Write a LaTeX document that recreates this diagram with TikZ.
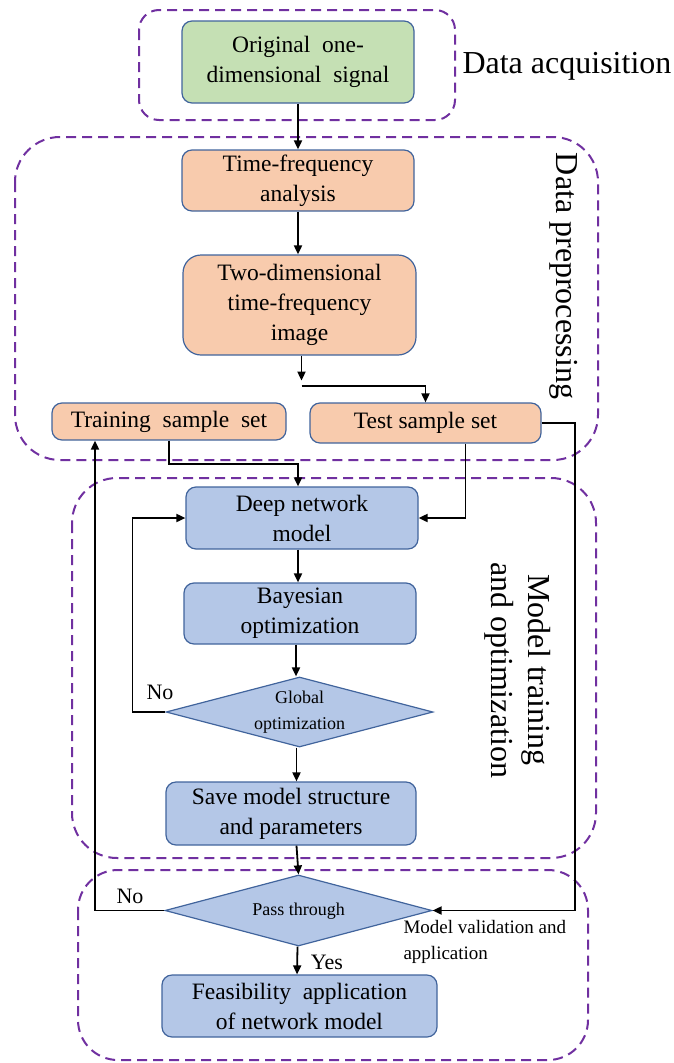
\documentclass[tikz,border=0pt]{standalone}
\usepackage{fontspec}
\setmainfont{Liberation Serif}
\usetikzlibrary{shapes.geometric,arrows.meta,calc}
\definecolor{grn}{HTML}{C5E0B4}
\definecolor{pch}{HTML}{F8CBAD}
\definecolor{blu}{HTML}{B4C7E7}
\definecolor{bord}{HTML}{41649C}
\definecolor{purp}{HTML}{7030A0}
\tikzset{
  box/.style={draw=bord, line width=1.2pt, rounded corners=10pt, align=center, inner sep=0pt,
    font=\fontsize{23.5}{30}\selectfont},
  dia/.style={diamond, draw=bord, line width=1.2pt, fill=blu, inner sep=0pt},
  diatext/.style={align=center, font=\fontsize{18}{26}\selectfont},
  group/.style={draw=purp, line width=2pt, dash pattern=on 10pt off 6pt},
  conn/.style={line width=1.8pt, -{Triangle[length=9pt,width=8pt]}},
  glabel/.style={font=\fontsize{32}{37}\selectfont, align=center},
  lab/.style={font=\fontsize{22}{26}\selectfont},
}
\begin{document}
\begin{tikzpicture}[x=1pt,y=-1pt]
\useasboundingbox (0,0) rectangle (674,1063);
% groups
\draw[group, rounded corners=20pt] (139,10) rectangle (455,120);
\draw[group, rounded corners=45pt] (15,137) rectangle (598,460);
\draw[group, rounded corners=45pt] (72,478) rectangle (596,858);
\draw[group, rounded corners=40pt] (78,870) rectangle (588,1060);
\node[glabel, anchor=west] (lacq) at (459,66) {Data acquisition};
\node[glabel, rotate=-90] (lpre) at (564,276) {Data preprocessing};
\node[glabel, rotate=-90] (lmod) at (518,670) {Model training\\and optimization};
% boxes
\node[box, fill=grn, minimum width=232pt, minimum height=82pt] (orig) at (298,62) {Original\ \ one-\\dimensional\ \ signal};
\node[box, fill=pch, minimum width=232pt, minimum height=61pt] (tf) at (298,180.5) {Time-frequency\\analysis};
\node[box, fill=pch, minimum width=233pt, minimum height=100pt, rounded corners=18pt] (two) at (299.5,305) {Two-dimensional\\time-frequency\\image};
\node[box, fill=pch, minimum width=234pt, minimum height=37pt] (train) at (169,421.5) {Training\ \ sample\ \ set};
\node[box, fill=pch, minimum width=231pt, minimum height=40pt] (test) at (425.5,423) {Test\ sample\ set};
\node[box, fill=blu, minimum width=232pt, minimum height=62pt] (deep) at (302,518) {Deep network\\model};
\node[box, fill=blu, minimum width=232pt, minimum height=61pt] (bayes) at (300,613.5) {Bayesian\\optimization};
\node[dia, minimum width=267pt, minimum height=70pt] (glob) at (299.5,712) {};
\node[diatext] (globt) at (299.5,712) {Global\\optimization};
\node[box, fill=blu, minimum width=250pt, minimum height=63pt] (save) at (291,813.5) {Save model structure\\and parameters};
\node[dia, minimum width=267pt, minimum height=71pt] (pass) at (298.5,910.5) {};
\node[diatext] (passt) at (298.5,911) {Pass through};
\node[box, fill=blu, minimum width=275pt, minimum height=62pt] (feas) at (299.5,1006) {Feasibility\ \ application\\of network model};
% labels
\node[lab] (no1) at (160,692) {No};
\node[lab] (no2) at (130,896) {No};
\node[lab] (yes) at (327,962) {Yes};
\node[font=\fontsize{19}{26}\selectfont, align=left, anchor=north west] (mva) at (400,917) {Model validation and\\application};
% connectors
\draw[conn] (orig.south) -- (tf.north);
\draw[conn] (tf.south) -- (tf.south |- two.north);
\coordinate (split) at ($(two.south)+(2,30)$);
\draw[conn] ([xshift=2pt]two.south) -- ++(0,25);
\draw[conn] (split) -| (test.north);
\draw[conn] (train.south) -- ++(0,23) -| ([xshift=-4pt]deep.north);
\draw[conn] ([xshift=40pt]test.south) |- (deep.east);
\draw[conn] (test.east) -- ++(33,0) |- (pass.east);
\draw[conn] ($(deep.south)+(-4,0)$) -- ($(bayes.north)+(-2,0)$);
\draw[conn] ($(bayes.south)+(-4,0)$) -- ($(glob.north)+(-3.5,0)$);
\draw[conn] (glob.west) -- ++(-33,0) |- (deep.west);
\draw[conn] ($(glob.south)+(-3,0)$) -- ($(save.north)+(5.5,0)$);
\draw[conn] ($(save.south)+(5.5,0)$) -- (pass.north);
\draw[conn] (pass.west) -| ([xshift=-74pt]train.south);
\draw[conn] ($(pass.south)+(-1,0)$) -- ($(feas.north)+(-2.5,0)$);
\end{tikzpicture}
\end{document}
